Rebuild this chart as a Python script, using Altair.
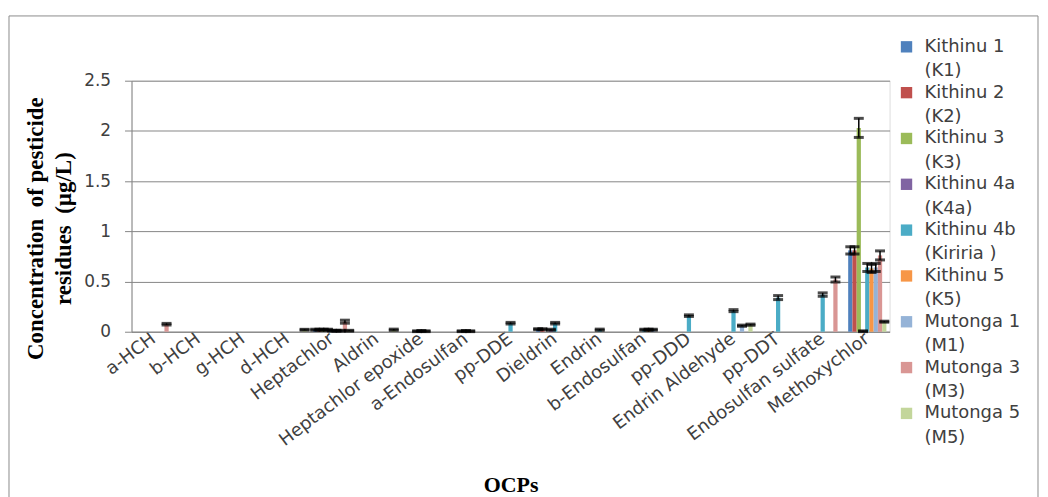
import altair as alt
import pandas as pd

categories = ["a-HCH", "b-HCH", "g-HCH", "d-HCH", "Heptachlor", "Aldrin",
              "Heptachlor epoxide", "a-Endosulfan", "pp-DDE", "Dieldrin", "Endrin",
              "b-Endosulfan", "pp-DDD", "Endrin Aldehyde", "pp-DDT",
              "Endosulfan sulfate", "Methoxychlor"]

legend_labels = ["Kithinu 1|(K1)", "Kithinu 2|(K2)", "Kithinu 3|(K3)", "Kithinu 4a|(K4a)",
                 "Kithinu 4b|(Kiriria )", "Kithinu 5|(K5)", "Mutonga 1|(M1)",
                 "Mutonga 3|(M3)", "Mutonga 5|(M5)"]
colors = ["#4F81BD", "#C0504D", "#9BBB59", "#8064A2", "#4BACC6", "#F79646",
          "#95B3D7", "#D99694", "#C3D69B"]

#            a    b    g    d    Hep   Ald   HE     aE     DDE    Diel   End   bE    DDD   EA    DDT   ES    Meth
k1 =       [0,   0,   0,   0,   0.02, 0,    0,     0,     0,     0.025, 0,    0,    0,    0,    0,    0,    0.81]
k2 =       [0,   0,   0,   0,   0.02, 0,    0,     0,     0,     0.025, 0,    0,    0,    0,    0,    0,    0.81]
k3 =       [0,   0,   0,   0,   0.02, 0,    0,     0,     0,     0,     0,    0,    0,    0,    0,    0,    2.03]
k4a =      [0,   0,   0,   0,   0.02, 0,    0.005, 0.005, 0,     0.02,  0,    0,    0,    0,    0,    0,    0.005]
k4b =      [0,   0,   0,   0,   0.01, 0,    0.008, 0.008, 0.085, 0.085, 0.02, 0.02, 0.16, 0.21, 0.34, 0.37, 0.64]
k5 =       [0,   0,   0,   0,   0.01, 0,    0.005, 0.005, 0,     0,     0,    0.02, 0,    0,    0,    0,    0.63]
m1 =       [0,   0,   0,   0,   0.01, 0,    0,     0,     0,     0,     0,    0.02, 0,    0.06, 0,    0,    0.64]
m3 =       [0.075, 0, 0,   0,   0.10, 0,    0,     0,     0,     0,     0,    0,    0,    0,    0,    0.52, 0.76]
m5 =       [0,   0,   0,   0.02, 0.01, 0.02, 0,    0,     0,     0,     0,    0,    0,    0.07, 0,    0,    0.10]

k1_err =   [0,   0,   0,   0,   0.005, 0,   0,     0,     0,     0.005, 0,    0,    0,    0,    0,    0,    0.036]
k2_err =   [0,   0,   0,   0,   0.005, 0,   0,     0,     0,     0.005, 0,    0,    0,    0,    0,    0,    0.036]
k3_err =   [0,   0,   0,   0,   0.005, 0,   0,     0,     0,     0,     0,    0,    0,    0,    0,    0,    0.095]
k4a_err =  [0,   0,   0,   0,   0.005, 0,   0.004, 0.004, 0,     0.005, 0,    0,    0,    0,    0,    0,    0.004]
k4b_err =  [0,   0,   0,   0,   0.004, 0,   0.004, 0.004, 0.008, 0.008, 0.006, 0.005, 0.008, 0.01, 0.02, 0.017, 0.04]
k5_err =   [0,   0,   0,   0,   0.004, 0,   0.004, 0.004, 0,     0,     0,    0.005, 0,    0,    0,    0,    0.04]
m1_err =   [0,   0,   0,   0,   0.004, 0,   0,     0,     0,     0,     0,    0.005, 0,    0.006, 0,   0,    0.04]
m3_err =   [0.008, 0, 0,   0,   0.015, 0,   0,     0,     0,     0,     0,    0,    0,    0,    0,    0.025, 0.045]
m5_err =   [0,   0,   0,   0.004, 0.004, 0.006, 0,  0,     0,     0,     0,    0,    0,    0.006, 0,   0,    0.005]

values = [k1, k2, k3, k4a, k4b, k5, m1, m3, m5]
errors = [k1_err, k2_err, k3_err, k4a_err, k4b_err, k5_err, m1_err, m3_err, m5_err]

rows = []
for lab, vals, errs in zip(legend_labels, values, errors):
    for c, v, e in zip(categories, vals, errs):
        rows.append({"OCP": c, "Site": lab, "value": v, "err": e,
                     "lo": max(v - e, 0), "hi": v + e})
df = pd.DataFrame(rows)
df_err = df[df["value"] > 0]

font_sans = "DejaVu Sans"
font_serif = "Liberation Serif"
NB = "\u00a0"

x_enc = alt.X("OCP:N", sort=categories,
              scale=alt.Scale(paddingInner=0, paddingOuter=0),
              axis=alt.Axis(title="OCPs", labelAngle=-37, labelAlign="right",
                            labelBaseline="middle", labelPadding=5, ticks=False,
                            labelFont=font_sans, labelFontSize=18, labelColor="#404040",
                            titleFont=font_serif, titleFontSize=22, titleFontWeight="bold",
                            titleColor="#000000", titleY=153, titleBaseline="middle",
                            domainColor="#868686", grid=False))
xoff = alt.XOffset("Site:N", sort=legend_labels,
                   scale=alt.Scale(paddingInner=0, paddingOuter=0.75))

bars = alt.Chart(df).mark_bar().encode(
    x=x_enc,
    xOffset=xoff,
    y=alt.Y("value:Q",
            scale=alt.Scale(domain=[0, 2.5], nice=False),
            axis=alt.Axis(title=["Concentration" + NB + NB + "of pesticide",
                                 "residues" + NB + NB + "(µg/L)"],
                          values=[0, 0.5, 1, 1.5, 2, 2.5], labelExpr="datum.value",
                          labelFont=font_sans, labelFontSize=17, labelColor="#404040",
                          labelPadding=14, tickSize=7, tickColor="#868686",
                          domainColor="#868686", gridColor="#868686",
                          titleFont=font_serif, titleFontSize=23, titleFontWeight="bold",
                          titleColor="#000000", titleAngle=-90, titleX=-89, titleY=148,
                          titleAlign="center", titleBaseline="alphabetic",
                          titleLineHeight=28)),
    color=alt.Color("Site:N", sort=legend_labels,
                    scale=alt.Scale(domain=legend_labels, range=colors),
                    legend=alt.Legend(title=None, orient="none", legendX=769, legendY=-43,
                                      labelExpr="split(datum.label, '|')",
                                      labelFont=font_sans, labelFontSize=18,
                                      labelColor="#404040", labelLimit=200, labelOffset=9,
                                      symbolType="square", symbolSize=130,
                                      symbolStrokeWidth=0, rowPadding=3)),
)

rules = alt.Chart(df_err).mark_rule(color="black", strokeWidth=1.5).encode(
    x=alt.X("OCP:N", sort=categories), xOffset=xoff,
    y="lo:Q", y2="hi:Q")

caps_hi = alt.Chart(df_err).mark_tick(color="black", thickness=3, size=10).encode(
    x=alt.X("OCP:N", sort=categories), xOffset=xoff, y="hi:Q")
caps_lo = alt.Chart(df_err).mark_tick(color="black", thickness=3, size=10).encode(
    x=alt.X("OCP:N", sort=categories), xOffset=xoff, y="lo:Q")

frame = alt.Chart(pd.DataFrame({"a": [0]})).mark_rect(
    fill=None, stroke="#8c8c8c", strokeWidth=1).encode(
    x=alt.value(-123), x2=alt.value(910), y=alt.value(-65), y2=alt.value(440))

chart = alt.layer(frame, bars, rules, caps_hi, caps_lo).properties(
    width=761, height=252,
    autosize=alt.AutoSizeParams(type="none"),
    padding={"left": 124, "top": 72, "right": 151, "bottom": 180},
).configure_view(stroke=None).configure_axis(gridWidth=1).configure(
    style={"guide-label": {"lineHeight": 24.5}})

chart.save("out.html", embed_options={"renderer": "svg", "actions": False})
